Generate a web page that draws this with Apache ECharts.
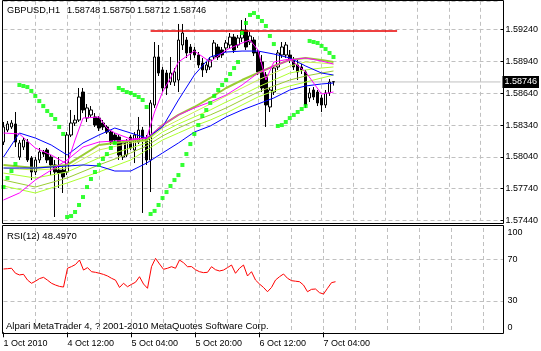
<!DOCTYPE html>
<html>
<head>
<meta charset="utf-8">
<script src="https://cdn.jsdelivr.net/npm/echarts@6/dist/echarts.min.js"></script>
<style>
  html, body { margin: 0; padding: 0; background: #fff; }
  #chart { width: 541px; height: 351px; }
</style>
</head>
<body>
<div id="chart"></div>
<script>
// time scale labels, one every 16 hourly bars
const tickLabels = ['1 Oct 2010', '4 Oct 12:00', '5 Oct 04:00', '5 Oct 20:00', '6 Oct 12:00', '7 Oct 04:00'];

// GBPUSD H1 candles (84 bars)
const opens = [1.58180,1.58293,1.58322,1.58350,1.58039,1.58133,1.58180,1.58030,1.57898,1.58011,
  1.58086,1.58105,1.58039,1.57964,1.57916,1.57916,1.57898,1.58246,1.58359,1.58387,
  1.58651,1.58406,1.58435,1.58416,1.58406,1.58359,1.58322,1.58274,1.58246,1.58227,
  1.58039,1.58058,1.58227,1.58105,1.58180,1.58293,1.58218,1.58011,1.58529,1.58981,
  1.58859,1.58830,1.58745,1.58745,1.58764,1.59094,1.59141,1.59075,1.59047,1.59000,
  1.58924,1.58859,1.58887,1.58981,1.59075,1.59047,1.59066,1.59094,1.59169,1.59094,
  1.59160,1.59235,1.59122,1.59141,1.59028,1.58934,1.58811,1.58510,1.58651,1.58887,
  1.59000,1.59000,1.59000,1.58953,1.58906,1.58887,1.58840,1.58595,1.58670,1.58651,
  1.58595,1.58529,1.58642,1.58748];
const closes = [1.58322,1.58350,1.58359,1.58180,1.58171,1.58199,1.58011,1.57898,1.58011,1.58086,
  1.58067,1.58011,1.57964,1.57898,1.57888,1.57851,1.58246,1.58359,1.58387,1.58604,
  1.58482,1.58501,1.58482,1.58340,1.58312,1.58322,1.58274,1.58180,1.58199,1.58058,
  1.58171,1.58180,1.58124,1.58246,1.58293,1.58218,1.58011,1.58548,1.58981,1.58830,
  1.58689,1.58689,1.58830,1.58840,1.59141,1.59207,1.59019,1.59019,1.59000,1.58906,
  1.58859,1.58906,1.58953,1.59113,1.58981,1.59000,1.59113,1.59169,1.59047,1.59160,
  1.59235,1.59075,1.59179,1.59019,1.58840,1.58689,1.58529,1.58670,1.58877,1.59019,
  1.59075,1.59094,1.58953,1.58887,1.58840,1.58859,1.58529,1.58642,1.58604,1.58548,
  1.58529,1.58642,1.58745,1.58746];
const lows = [1.58152,1.58274,1.58303,1.58133,1.58011,1.58105,1.57992,1.57822,1.57869,1.57982,
  1.58039,1.57982,1.57869,1.57474,1.57747,1.57700,1.57869,1.58227,1.58331,1.58369,
  1.58453,1.58369,1.58406,1.58322,1.58284,1.58293,1.58256,1.58152,1.58171,1.58011,
  1.58011,1.58039,1.58105,1.57982,1.58161,1.57512,1.57964,1.57709,1.58501,1.58802,
  1.58651,1.58623,1.58717,1.58708,1.58651,1.59047,1.58972,1.58953,1.58972,1.58877,
  1.58793,1.58830,1.58859,1.58953,1.58953,1.58972,1.59028,1.59066,1.59019,1.59066,
  1.59122,1.59047,1.59094,1.58990,1.58811,1.58651,1.58322,1.58463,1.58623,1.58859,
  1.58972,1.58972,1.58924,1.58859,1.58764,1.58821,1.58501,1.58557,1.58576,1.58519,
  1.58463,1.58501,1.58614,1.58712];
const highs = [1.58369,1.58378,1.58387,1.58463,1.58199,1.58227,1.58208,1.58048,1.58039,1.58124,
  1.58105,1.58124,1.58058,1.58011,1.58039,1.57945,1.58274,1.58482,1.58435,1.58689,
  1.58689,1.58538,1.58519,1.58453,1.58425,1.58387,1.58340,1.58293,1.58265,1.58246,
  1.58199,1.58208,1.58246,1.58274,1.58416,1.58322,1.58246,1.58576,1.59122,1.59094,
  1.58887,1.58859,1.58981,1.58877,1.59292,1.59292,1.59169,1.59103,1.59075,1.59028,
  1.58972,1.58934,1.58981,1.59141,1.59103,1.59075,1.59141,1.59207,1.59198,1.59188,
  1.59329,1.59348,1.59216,1.59169,1.59056,1.59000,1.58840,1.58698,1.58906,1.59047,
  1.59122,1.59122,1.59047,1.58981,1.58953,1.58915,1.58859,1.58689,1.58698,1.58670,
  1.58623,1.58670,1.58774,1.58750];

// parabolic SAR, one dot per bar
const sar = [1.57756,1.57841,1.57907,1.57973,1.58717,1.58708,1.58698,1.58661,1.58614,1.58566,
  1.58519,1.58472,1.58435,1.58397,1.58322,1.58256,1.57474,1.57483,1.57521,1.57587,
  1.57662,1.57756,1.57832,1.57898,1.57964,1.58020,1.58067,1.58124,1.58171,1.58689,
  1.58670,1.58651,1.58642,1.58623,1.58604,1.58576,1.58510,1.57502,1.57531,1.57587,
  1.57653,1.57709,1.57766,1.57822,1.57869,1.57964,1.58067,1.58161,1.58256,1.58340,
  1.58425,1.58482,1.58548,1.58614,1.58670,1.58717,1.58764,1.58821,1.58877,1.58934,
  1.59207,1.59301,1.59377,1.59395,1.59358,1.59320,1.59273,1.59179,1.59103,1.58331,
  1.58340,1.58369,1.58406,1.58435,1.58463,1.58491,1.58519,1.59132,1.59122,1.59113,
  1.59085,1.59056,1.59019,1.58981];

// fast magenta MA, read at these bars
const fastIdx = [0,4,8,12,16,18,20,24,26,28,32,36,38,40,42,44,48,52,56,60,62,64,66,68,72,76,80,83];
const fastMa = [1.58265,1.58256,1.58124,1.58058,1.57973,1.58199,1.58406,1.58416,1.58312,1.58265,
  1.58208,1.58218,1.58463,1.58651,1.58783,1.58934,1.59037,1.58934,1.59047,1.59113,
  1.59141,1.59047,1.58764,1.58934,1.58962,1.58840,1.58632,1.58651];

// slow magenta MA and blue bands, read every 4 bars
const stepIdx = [0,4,8,12,16,20,24,28,32,36,40,44,48,52,56,60,64,68,72,76,80,83];
const slowMa = [1.57634,1.57700,1.57822,1.57916,1.58011,1.58133,1.58180,1.58190,1.58199,1.58218,
  1.58340,1.58435,1.58501,1.58557,1.58623,1.58717,1.58830,1.58896,1.58953,1.58972,1.58943,1.58915];
const bandUpper = [1.58039,1.58265,1.58218,1.58152,1.58058,1.58171,1.58246,1.58312,1.58265,1.58218,
  1.58322,1.58576,1.58811,1.58981,1.59028,1.59037,1.59037,1.59009,1.58972,1.58896,1.58830,1.58811];
const bandLower = [1.57935,1.57935,1.57935,1.57945,1.57954,1.57964,1.57954,1.57907,1.57907,1.57982,
  1.58077,1.58171,1.58274,1.58331,1.58416,1.58482,1.58538,1.58595,1.58670,1.58708,1.58727,1.58736];

// yellow-green MA ribbon
const greenIdx = [0,8,16,24,32,36,40,44,48,52,56,60,64,68,72,76,80,83];
const green1 = [1.57964,1.57935,1.57964,1.58152,1.58190,1.58199,1.58340,1.58435,1.58510,1.58595,1.58689,1.58764,1.58830,1.58896,1.58953,1.58972,1.58953,1.58934];
const green2 = [1.57935,1.57916,1.57935,1.58105,1.58171,1.58190,1.58312,1.58387,1.58463,1.58538,1.58614,1.58689,1.58764,1.58830,1.58896,1.58934,1.58924,1.58915];
const green3 = [1.57888,1.57841,1.57898,1.58030,1.58124,1.58171,1.58274,1.58350,1.58416,1.58482,1.58557,1.58623,1.58698,1.58764,1.58830,1.58859,1.58877,1.58887];
const green4 = [1.57822,1.57756,1.57841,1.57964,1.58077,1.58143,1.58237,1.58312,1.58378,1.58435,1.58501,1.58576,1.58651,1.58708,1.58764,1.58802,1.58830,1.58849];
const green5 = [1.57766,1.57700,1.57794,1.57898,1.58011,1.58105,1.58199,1.58265,1.58331,1.58387,1.58453,1.58529,1.58604,1.58661,1.58708,1.58745,1.58783,1.58811];

// RSI(12), one value per bar
const rsi = [60.7,61,61.4,56.6,55,55.6,50.1,47,49,51.5,
  52.7,50,47,45.3,44,43.4,61.4,63,65,69.3,
  59.7,62,58.1,57.5,56.6,55.5,54,51.8,50,43,
  47,43.7,46,48,53.3,46.3,42.2,62.9,70.9,65.5,
  60.4,61.4,62.9,61.4,69.3,66.7,62.9,63,60,58.1,
  57.2,57.5,62.9,60,58.8,59.7,62,64.5,56.6,61.4,
  64.5,54,58.1,50.1,46.3,43,38.9,43,50.1,53.3,
  55.9,51.8,49.5,49,48.5,45.3,38.9,41.2,41.5,38,
  36.7,42.2,47.6,48.5];

// header quote: symbol, open, high, low, close of the last bar
const headerParts = ['GBPUSD,H1', '1.58748', '1.58750', '1.58712', '1.58746'];
const lastPrice = 1.58746;
const resistance = 1.59226;
const resistanceSpan = [37, 99];
const slotCount = 126;

const FONT = '"Liberation Sans", Arial, sans-serif';
const FS = 9;
const gridLine = { color: '#c0c0c0', type: [4, 3], width: 1 };
const slots = Array.from({ length: slotCount }, (_, i) => String(i));
const pairs = (idx, vals) => idx.map((b, k) => [b, vals[k]]);

const chart = echarts.init(document.getElementById('chart'), null, { renderer: 'canvas' });

function lineSeries(data, color, width, z) {
  return {
    type: 'line', xAxisIndex: 0, yAxisIndex: 0, data: data,
    symbol: 'none', silent: true, z: z || 3,
    lineStyle: { color: color, width: width || 1 }
  };
}

// bid line across the chart with the black price box at its right end
const bidLine = lineSeries([[0, lastPrice], [slotCount - 1, lastPrice]], '#c0c0c0', 1, 1);
bidLine.endLabel = {
  show: true, distance: 2, formatter: lastPrice.toFixed(5),
  backgroundColor: '#000', color: '#fff', padding: [2, 2, 1, 2], fontSize: FS, fontFamily: FONT
};

// header texts placed one after another like the terminal does
const headerX = [7, 67, 102, 137, 173];
const headerTexts = headerParts.map((t, k) => ({
  type: 'text', z: 101, x: headerX[k], y: 10,
  style: { text: t, font: '9.2px ' + FONT, fill: '#000', verticalAlign: 'middle' }
}));

const options = {
  animation: false,
  backgroundColor: '#fff',
  grid: [
    { left: 3.5, width: 500, top: 0.83, height: 219.77 },
    { left: 3.5, width: 500, top: 228, height: 104.3 }
  ],
  xAxis: [
    {
      type: 'category', gridIndex: 0, data: slots, boundaryGap: false,
      axisLine: { show: false }, axisTick: { show: false }, axisLabel: { show: false },
      splitLine: { show: true, interval: (i) => i > 0 && i % 8 === 0, lineStyle: gridLine }
    },
    {
      type: 'category', gridIndex: 1, data: slots, boundaryGap: false,
      axisLine: { show: false },
      axisTick: { show: true, length: 5, interval: (i) => i % 16 === 0 && i / 16 < tickLabels.length, lineStyle: { color: '#000' } },
      axisLabel: {
        interval: (i) => i % 16 === 0 && i / 16 < tickLabels.length,
        formatter: (v, i) => tickLabels[i / 16] || '',
        align: 'left', margin: 7, fontSize: FS, fontFamily: FONT, color: '#000'
      },
      splitLine: { show: true, interval: (i) => i > 0 && i % 8 === 0, lineStyle: gridLine }
    }
  ],
  yAxis: [
    {
      type: 'value', gridIndex: 0, position: 'right',
      min: 1.5744, max: 1.5951, interval: 0.003,
      axisLine: { show: false },
      axisTick: { show: true, length: 3, lineStyle: { color: '#000' } },
      axisLabel: { showMaxLabel: false, margin: 5, fontSize: FS, fontFamily: FONT, color: '#000',
        formatter: (v) => v.toFixed(5) },
      splitLine: { show: true, lineStyle: gridLine }
    },
    {
      type: 'value', gridIndex: 1, position: 'right',
      min: 0, max: 100, interval: 10,
      axisLine: { show: false }, axisTick: { show: false }, splitLine: { show: false },
      axisLabel: {
        margin: 4, fontSize: FS, fontFamily: FONT, color: '#000',
        verticalAlignMinLabel: 'bottom', verticalAlignMaxLabel: 'top',
        formatter: (v) => ([0, 30, 70, 100].indexOf(v) >= 0 ? String(v) : '')
      }
    }
  ],
  series: [
    bidLine,
    {
      type: 'candlestick', xAxisIndex: 0, yAxisIndex: 0, barWidth: 3, silent: true, z: 2,
      data: opens.map((o, i) => [o, closes[i], lows[i], highs[i]]),
      itemStyle: { color: '#fff', color0: '#000', borderColor: '#000', borderColor0: '#000', borderWidth: 1 }
    },
    lineSeries(resistanceSpan.map((b) => [b, resistance]), '#e80000', 1.4, 3),
    lineSeries(pairs(greenIdx, green5), '#adff2f'),
    lineSeries(pairs(greenIdx, green4), '#9acd32'),
    lineSeries(pairs(greenIdx, green3), '#adff2f'),
    lineSeries(pairs(greenIdx, green2), '#c8f050'),
    lineSeries(pairs(greenIdx, green1), '#9acd32', 2),
    lineSeries(pairs(stepIdx, bandUpper), '#0000ff'),
    lineSeries(pairs(stepIdx, bandLower), '#0000ff'),
    lineSeries(pairs(stepIdx, slowMa), '#ff00ff'),
    lineSeries(pairs(fastIdx, fastMa), '#ff00ff'),
    {
      type: 'scatter', xAxisIndex: 0, yAxisIndex: 0, silent: true, z: 4,
      symbol: 'rect', symbolSize: 4,
      data: sar.map((v, i) => [i, v]),
      itemStyle: { color: '#00ff00' }
    },
    {
      type: 'line', xAxisIndex: 1, yAxisIndex: 1, symbol: 'none', silent: true,
      data: rsi.map((v, i) => [i, v]),
      lineStyle: { color: '#ff0000', width: 1 },
      markLine: {
        silent: true, symbol: 'none', animation: false,
        label: { show: false },
        lineStyle: gridLine,
        data: [{ yAxis: 30 }, { yAxis: 70 }]
      }
    }
  ],
  graphic: [
    { type: 'rect', z: 100, silent: true, shape: { x: 2.5, y: 0.5, width: 501, height: 223 },
      style: { fill: 'none', stroke: '#000', lineWidth: 1 } },
    { type: 'rect', z: 100, silent: true, shape: { x: 2.5, y: 225.5, width: 501, height: 108 },
      style: { fill: 'none', stroke: '#000', lineWidth: 1 } },
    ...headerTexts,
    { type: 'text', z: 101, x: 7, y: 236,
      style: { text: 'RSI(12) 48.4970', font: '9.5px ' + FONT, fill: '#000', verticalAlign: 'middle' } },
    { type: 'text', z: 101, x: 6, y: 326,
      style: { text: 'Alpari MetaTrader 4, ? 2001-2010 MetaQuotes Software Corp.', font: '9.5px ' + FONT, fill: '#000', verticalAlign: 'middle' } }
  ]
};

chart.setOption(options);
</script>
</body>
</html>
